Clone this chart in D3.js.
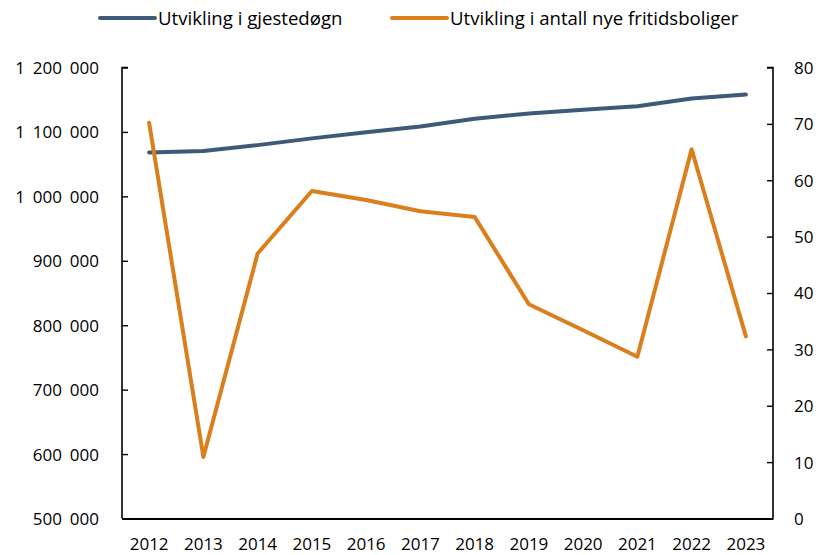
<!DOCTYPE html>
<html>
<head>
<meta charset="utf-8">
<script src="https://cdn.jsdelivr.net/npm/d3@7"></script>
<style>
  html, body { margin: 0; padding: 0; background: #fff; }
  svg text { font-family: "Open Sans", sans-serif; fill: #000; }
</style>
</head>
<body>
<svg id="chart" width="819" height="555"></svg>
<script>
const years = ["2012","2013","2014","2015","2016","2017","2018","2019","2020","2021","2022","2023"];
const gjestedogn = [1068000, 1070500, 1079500, 1090000, 1099500, 1108500, 1120500, 1128500, 1134500, 1140000, 1152000, 1158000];
const fritidsboliger = [70.2, 10.9, 47, 58.1, 56.5, 54.5, 53.5, 38, 33.4, 28.7, 65.5, 32.3];
const leftTicks = [500000, 600000, 700000, 800000, 900000, 1000000, 1100000, 1200000];
const rightTicks = [0, 10, 20, 30, 40, 50, 60, 70, 80];
const seriesNames = ["Utvikling i gjestedøgn", "Utvikling i antall nye fritidsboliger"];
const colors = ["#3D5A78", "#DA7F1B"];

const svg = d3.select("#chart");
const x0 = 122, x1 = 773, yTop = 67.5, yBot = 518.5;

const x = d3.scaleBand().domain(years).range([x0, x1]);
const yL = d3.scaleLinear().domain([500000, 1200000]).range([yBot, yTop]);
const yR = d3.scaleLinear().domain([0, 80]).range([yBot, yTop]);

const fmt = d => d3.format(",")(d).replace(/,/g, " ");

// Left axis
const gL = svg.append("g").attr("transform", `translate(${x0},0)`)
  .call(d3.axisRight(yL).tickValues(leftTicks).tickSize(6).tickFormat(fmt));
gL.select(".domain").attr("stroke", "#000").attr("stroke-width", 1.6).attr("d", `M6,${yTop}H0V${yBot}`);
gL.selectAll(".tick line").attr("stroke", "#000").attr("stroke-width", 1.4);
gL.selectAll(".tick text").attr("x", -23).attr("text-anchor", "end")
  .attr("font-size", "17px").attr("word-spacing", "3.5px").attr("dy", "0.35em");

// Right axis
const gR = svg.append("g").attr("transform", `translate(${x1},0)`)
  .call(d3.axisLeft(yR).tickValues(rightTicks).tickSize(6).tickFormat(d3.format("d")));
gR.select(".domain").attr("stroke", "#000").attr("stroke-width", 1.6).attr("d", `M-6,${yTop}H0V${yBot}`);
gR.selectAll(".tick line").attr("stroke", "#000").attr("stroke-width", 1.4);
gR.selectAll(".tick text").attr("x", 21).attr("text-anchor", "start")
  .attr("font-size", "17px").attr("dy", "0.35em");

// Bottom axis
const gB = svg.append("g").attr("transform", `translate(0,${yBot})`)
  .call(d3.axisBottom(x).tickSize(0));
gB.select(".domain").attr("stroke", "#000").attr("stroke-width", 1.8);
gB.selectAll(".tick text").attr("y", 31).attr("dy", "0").attr("font-size", "17px");

const cx = d => x(d) + x.bandwidth() / 2;

const lineL = d3.line().x((d, i) => cx(years[i])).y(d => yL(d));
const lineR = d3.line().x((d, i) => cx(years[i])).y(d => yR(d));

svg.append("path").datum(gjestedogn).attr("d", lineL)
  .attr("fill", "none").attr("stroke", colors[0]).attr("stroke-width", 4)
  .attr("stroke-linejoin", "round").attr("stroke-linecap", "round");
svg.append("path").datum(fritidsboliger).attr("d", lineR)
  .attr("fill", "none").attr("stroke", colors[1]).attr("stroke-width", 4)
  .attr("stroke-linejoin", "round").attr("stroke-linecap", "round");

// Legend
const legendX = [100, 392];
const leg = svg.append("g");
seriesNames.forEach((name, i) => {
  const g = leg.append("g").attr("transform", `translate(${legendX[i]},18)`);
  g.append("line").attr("x1", 0).attr("x2", 55).attr("y1", 0).attr("y2", 0)
    .attr("stroke", colors[i]).attr("stroke-width", 4).attr("stroke-linecap", "round");
  g.append("text").attr("x", 58).attr("y", 0).attr("dy", "0.35em")
    .attr("font-size", "18.6px").text(name);
});
</script>
</body>
</html>
